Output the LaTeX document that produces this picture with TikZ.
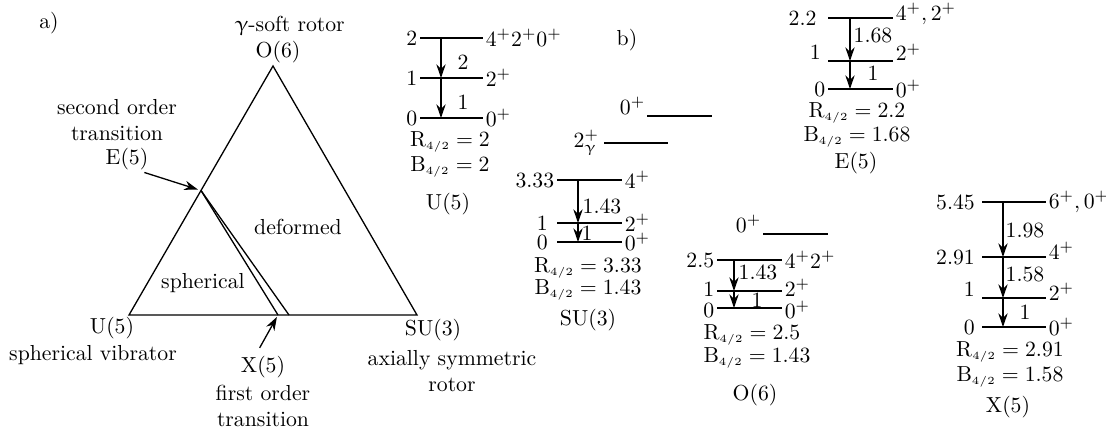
\documentclass[tikz,border=0pt]{standalone}
\usepackage{amsmath}
\usepackage{upgreek}
\usetikzlibrary{arrows.meta,calc}
\tikzset{
  rand/.style={line width=0.6pt},
  lev/.style={line width=0.6pt},
  tr/.style={-{Stealth[length=2.2mm,width=1.5mm]},line width=0.6pt},
  zahl/.style={anchor=east,inner xsep=1pt,inner ysep=0pt},
  spin/.style={anchor=west,inner xsep=1pt,inner ysep=0pt},
  band/.style={anchor=south east,inner sep=0.5pt},
  txt/.style={align=center,inner sep=1pt},
}
\newcommand{\rfour}[1]{$\mathrm{R}_{\scriptscriptstyle 4/2} = #1$}
\newcommand{\bfour}[1]{$\mathrm{B}_{\scriptscriptstyle 4/2} = #1$}

\begin{document}
\begin{tikzpicture}[x=0.46pt,y=-0.46pt]
  \useasboundingbox (0,0) rectangle (1106,434);
  % a) Casten-Dreieck
  \node[txt] (pa) at (49,23) {a)};
  \coordinate (U5) at (129,315);
  \coordinate (O6) at (273,66);
  \coordinate (SU3) at (417,315);
  \coordinate (E5) at ($(U5)!0.5!(O6)$);
  \coordinate (X5) at (278,315);
  \coordinate (X5r) at (289,315);
  \draw[rand] (U5) -- (O6) -- (SU3) -- cycle;
  \draw[rand] (E5) -- (X5);
  \draw[rand] (E5) -- (X5r);
  \node[txt] (gsr) at (290,26) {$\upgamma$-soft rotor};
  \node[txt] (o6l) at (278,52) {O(6)};
  \node[txt] (e5t) at (117,120) {second order\\transition};
  \node[txt] (e5l) at (127,159) {E(5)};
  \draw[tr,shorten >=1.5pt] ([xshift=-3pt]e5l.south east) -- (E5);
  \node[txt] (sph) at (203,283) {spherical};
  \node[txt] (def) at (298,227) {deformed};
  \node[txt] (u5l) at (112,328) {U(5)};
  \node[txt] (u5t) at (93,355) {spherical vibrator};
  \node[txt] (x5l) at (263,367) {X(5)};
  \node[txt] (x5t) at (263,406) {first order\\transition};
  \draw[tr,shorten <=3pt,shorten >=1pt] ([xshift=-3pt]x5l.north) -- (X5);
  \node[txt] (su3l) at (433,330) {SU(3)};
  \node[txt] (su3t) at (452,371) {axially symmetric\\rotor};
  % b) Niveauschemata
  \node[txt] (pb) at (627,40) {b)};
  % U(5)
  \draw[lev] (420,38) node[zahl] (uz2) {2} -- (483,38) node[spin] (us2) {$4^+2^+0^+$};
  \draw[lev] (420,78) node[zahl] (uz1) {1} -- (483,78) node[spin] (us1) {$2^+$};
  \draw[lev] (420,118) node[zahl] (uz0) {0} -- (483,118) node[spin] (us0) {$0^+$};
  \coordinate (u2) at (441,38);
  \coordinate (u1) at (441,78);
  \coordinate (u0) at (441,118);
  \draw[tr] (u2) -- (u1);
  \draw[tr] (u1) -- (u0);
  \node[txt] (ub2) at (463,62) {2};
  \node[txt] (ub1) at (463,102) {1};
  \node[txt] (ur) at (450,142) {\rfour{2}};
  \node[txt] (ubb) at (450,167) {\bfour{2}};
  \node[txt] (un) at (448,204) {U(5)};
  % SU(3)
  \draw[lev] (647,116) node[band] (sbl) {$0^+$} -- (712,116);
  \draw[lev] (604,143) node[zahl,inner xsep=2pt] (sgl) {$2^+_\upgamma$} -- (668,143);
  \draw[lev] (557,180) node[zahl] (sz4) {3.33} -- (622,180) node[spin] (ss4) {$4^+$};
  \draw[lev] (557,223) node[zahl,xshift=-3pt] (sz2) {1} -- (622,223) node[spin] (ss2) {$2^+$};
  \draw[lev] (557,242) node[zahl,xshift=-3pt] (sz0) {0} -- (622,242) node[spin] (ss0) {$0^+$};
  \coordinate (s4) at (578,180);
  \coordinate (s2) at (578,223);
  \coordinate (s0) at (578,242);
  \draw[tr] (s4) -- (s2);
  \draw[tr] (s2) -- (s0);
  \node[txt] (sb4) at (602,206) {1.43};
  \node[txt] (sb2) at (587,233) {1};
  \node[txt] (sr) at (588,268) {\rfour{3.33}};
  \node[txt] (sbb) at (588,290) {\bfour{1.43}};
  \node[txt] (sn) at (588,320) {SU(3)};
  % E(5)
  \draw[lev] (828,18) node[zahl,xshift=-4pt] (ez4) {2.2} -- (893,18) node[spin,yshift=2pt] (es4) {$4^+, 2^+$};
  \draw[lev] (828,61) node[zahl,xshift=-2pt,yshift=4pt] (ez2) {1} -- (893,61) node[spin,yshift=4pt] (es2) {$2^+$};
  \draw[lev] (828,89) node[zahl] (ez0) {0} -- (893,89) node[spin] (es0) {$0^+$};
  \coordinate (e4) at (850,18);
  \coordinate (e2) at (850,61);
  \coordinate (e0) at (850,89);
  \draw[tr] (e4) -- (e2);
  \draw[tr] (e2) -- (e0);
  \node[txt] (eb4) at (873,35) {1.68};
  \node[txt] (eb2) at (873,73) {1};
  \node[txt] (er) at (857,113) {\rfour{2.2}};
  \node[txt] (ebb) at (857,137) {\bfour{1.68}};
  \node[txt] (en) at (856,163) {E(5)};
  % O(6)
  \draw[lev] (763,234) node[band] (obl) {$0^+$} -- (828,234);
  \draw[lev] (717,260) node[zahl] (oz4) {2.5} -- (782,260) node[spin] (os4) {$4^+2^+$};
  \draw[lev] (717,291) node[zahl,yshift=1pt] (oz2) {1} -- (782,291) node[spin,yshift=1.5pt] (os2) {$2^+$};
  \draw[lev] (717,308) node[zahl,yshift=-1pt] (oz0) {0} -- (782,308) node[spin,yshift=-1pt] (os0) {$0^+$};
  \coordinate (o4) at (734,260);
  \coordinate (o2) at (734,291);
  \coordinate (o0) at (734,308);
  \draw[tr] (o4) -- (o2);
  \draw[tr] (o2) -- (o0);
  \node[txt] (ob4) at (758,272) {1.43};
  \node[txt] (ob2) at (757,300) {1};
  \node[txt] (or) at (752,335) {\rfour{2.5}};
  \node[txt] (obb) at (757,358) {\bfour{1.43}};
  \node[txt] (on) at (755,395) {O(6)};
  % X(5)
  \draw[lev] (982,202) node[zahl,xshift=-2pt] (xz6) {5.45} -- (1046,202) node[spin] (xs6) {$6^+, 0^+$};
  \draw[lev] (982,257) node[zahl,xshift=-2pt] (xz4) {2.91} -- (1046,257) node[spin,yshift=3pt] (xs4) {$4^+$};
  \draw[lev] (982,298) node[zahl,xshift=-2pt,yshift=4pt] (xz2) {1} -- (1046,298) node[spin,yshift=3pt] (xs2) {$2^+$};
  \draw[lev] (982,327) node[zahl,xshift=-2pt] (xz0) {0} -- (1046,327) node[spin] (xs0) {$0^+$};
  \coordinate (x6) at (1003,202);
  \coordinate (x4) at (1003,257);
  \coordinate (x2) at (1003,298);
  \coordinate (x0) at (1003,327);
  \draw[tr] (x6) -- (x4);
  \draw[tr] (x4) -- (x2);
  \draw[tr] (x2) -- (x0);
  \node[txt] (xb6) at (1025,230) {1.98};
  \node[txt] (xb4) at (1025,274) {1.58};
  \node[txt] (xb2) at (1025,312) {1};
  \node[txt] (xr) at (1010,352) {\rfour{2.91}};
  \node[txt] (xbb) at (1010,377) {\bfour{1.58}};
  \node[txt] (xn) at (1008,407) {X(5)};
\end{tikzpicture}
\end{document}
